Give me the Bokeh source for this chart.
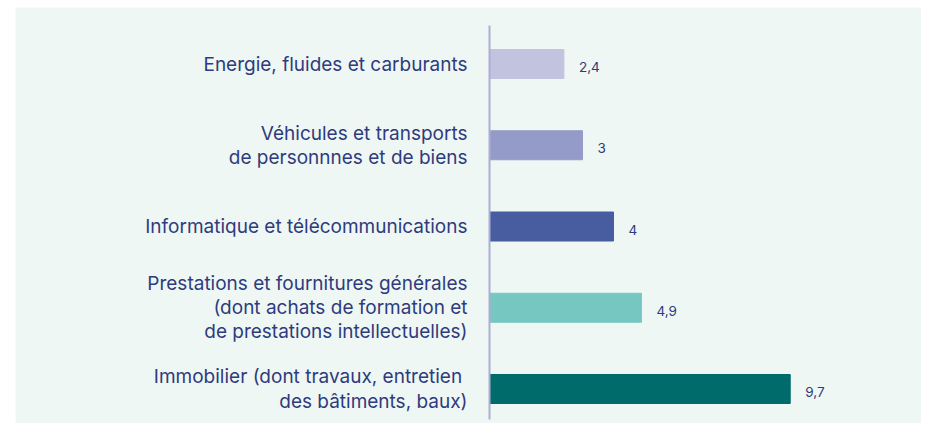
from bokeh.plotting import figure
from bokeh.models import Range1d, ColumnDataSource
from bokeh.core.properties import value
from bokeh.embed import file_html
from bokeh.resources import INLINE

categories = [
    "Energie, fluides et carburants",
    "Véhicules et transports\nde personnnes et de biens",
    "Informatique et télécommunications",
    "Prestations et fournitures générales\n(dont achats de formation et\nde prestations intellectuelles)",
    "Immobilier (dont travaux, entretien \ndes bâtiments, baux)",
]
values = [2.4, 3, 4, 4.9, 9.7]
value_labels = ["2,4", "3", "4", "4,9", "9,7"]
colors = ["#c2c3df", "#959bc8", "#475d9f", "#76c6c2", "#006b6b"]

W, H = 921, 423
LEFT, TOP = 15, 7
FW, FH = W - LEFT, H - TOP
AXIS_PX = 474      # zero line from the frame's left edge
UNIT_PX = 31.0     # pixels per unit on the x axis
STEP_PX = 81.25    # pixels between categories
TOP_PX = 56.5      # first category centre from frame top
BG = "#eff7f4"
TXT = "#2e3b7d"
FONT = "Inter"

n = len(categories)
ys = [n - 1 - i for i in range(n)]
bottom_px = FH - (TOP_PX + (n - 1) * STEP_PX)

src = ColumnDataSource(dict(y=ys, v=values, cat=categories, lab=value_labels, c=colors,
                            zero=[0] * n))

p = figure(width=W, height=H, output_backend="svg", toolbar_location=None,
           x_range=Range1d(-AXIS_PX / UNIT_PX, (FW - AXIS_PX) / UNIT_PX),
           y_range=Range1d(-bottom_px / STEP_PX, (n - 1) + TOP_PX / STEP_PX),
           min_border=0, min_border_left=LEFT, min_border_top=TOP,
           background_fill_color=BG, border_fill_color="white")
p.axis.visible = False
p.grid.visible = False
p.outline_line_color = None

p.hbar(y="y", left=0, right="v", height=29 / STEP_PX, color="c", source=src)

p.segment(x0=[0], x1=[0], y0=[(n - 1) + 38.5 / STEP_PX], y1=[-30.5 / STEP_PX],
          line_color="#abaed4", line_width=2)

p.text(x="zero", y="y", text="cat", source=src, x_offset=-22, text_align="right",
       text_baseline="middle", text_font=value(FONT), text_font_size="19px",
       text_color=TXT, text_line_height=1.05)

p.text(x="v", y="y", text="lab", source=src, x_offset=15, y_offset=3, text_align="left",
       text_baseline="middle", text_font=value(FONT), text_font_size="13.5px",
       text_color=TXT)

open("out.html", "w").write(file_html(p, INLINE))
